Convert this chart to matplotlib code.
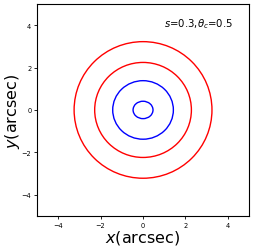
import matplotlib
matplotlib.use("Agg")
import matplotlib.pyplot as plt
from matplotlib.patches import Ellipse

# half-widths (x) and half-heights (y) of the curves, arcsec
red_rx = [3.25, 2.28]
red_ry = [3.22, 2.24]
blue_rx = [1.43, 0.47]
blue_ry = [1.38, 0.41]
ticks = [-4, -2, 0, 2, 4]

fig = plt.figure(figsize=(2.56, 2.51), dpi=100)
ax = fig.add_axes([0.1445, 0.1355, 0.8285, 0.845])

for rx, ry in zip(red_rx, red_ry):
    ax.add_patch(Ellipse((0, 0), 2 * rx, 2 * ry, fill=False, color='red', lw=1.0))
for rx, ry in zip(blue_rx, blue_ry):
    ax.add_patch(Ellipse((0, 0), 2 * rx, 2 * ry, fill=False, color='blue', lw=1.0))

ax.set_xlim(-5, 5)
ax.set_ylim(-5, 5)
ax.set_xticks(ticks)
ax.set_yticks(ticks)
ax.tick_params(labelsize=4.8, length=2, width=0.6, pad=2)
ax.set_xlabel(r'$x$(arcsec)', fontsize=11.5, labelpad=0)
ax.set_ylabel(r'$y$(arcsec)', fontsize=11.5, labelpad=0)
ax.text(1.0, 4.1, r'$s$=0.3,$\theta_c$=0.5', fontsize=7.3, va='center')

fig.savefig("out.png", dpi=100)
